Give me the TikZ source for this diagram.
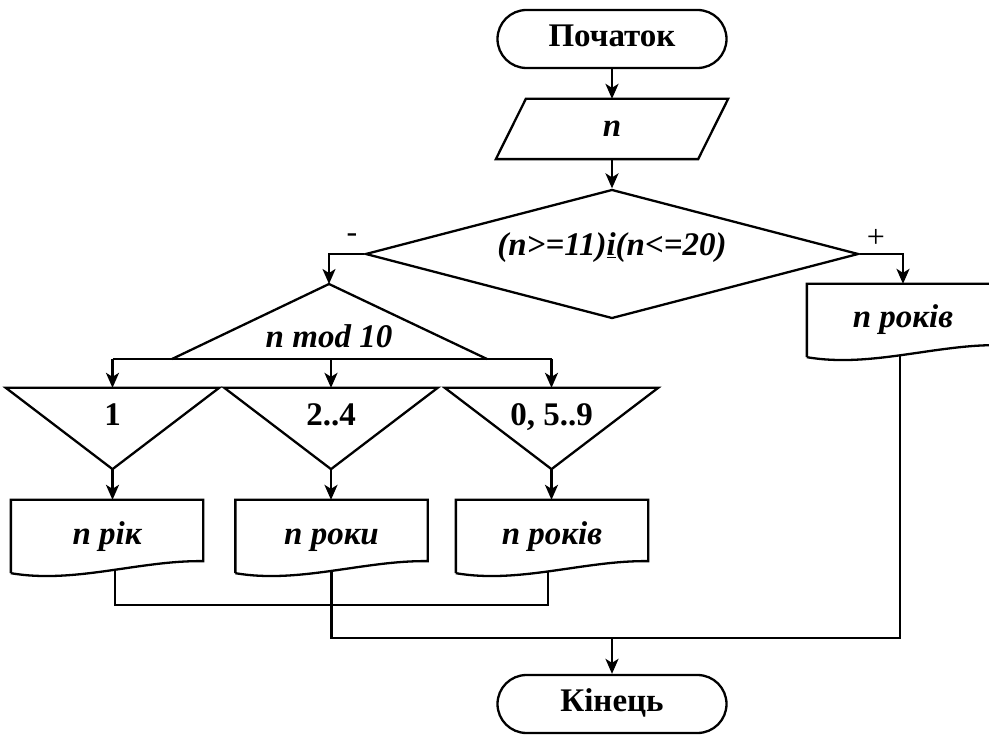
\documentclass[tikz,border=0pt]{standalone}
\usepackage{fontspec}
\setmainfont{Liberation Serif}
\usetikzlibrary{shapes.geometric,shapes.misc,arrows.meta,calc}

% document-style output block: box with a wavy lower edge
\newcommand\docoutline[1]{%
  \draw (#1.south west) -- (#1.north west) -- (#1.north east)
    -- ($(#1.south east)+(0,-12)$)
    .. controls ($(#1.south east)+(-63,-13)$) and ($(#1.south west)+(63,11)$) .. (#1.south west);}
% inverted triangle for a case branch
\newcommand\caseoutline[1]{%
  \draw (#1.north west) -- (#1.north east) -- (#1.south) -- cycle;}

\begin{document}
\begin{tikzpicture}[x=1pt,y=-1pt,line width=2.3pt,
  txt/.style={font=\fontsize{33}{36}\selectfont\bfseries,text height=22pt,text depth=7pt,inner sep=0pt},
  itxt/.style={font=\fontsize{33}{36}\selectfont\bfseries\itshape,text height=22pt,text depth=7pt,inner sep=0pt},
  sign/.style={font=\fontsize{32}{36}\selectfont},
  term/.style={rounded rectangle,draw,minimum width=229pt,minimum height=58pt,inner sep=0pt,txt},
  iobox/.style={rectangle,minimum width=200pt,minimum height=58pt,inner sep=0pt,itxt},
  decision/.style={diamond,draw,aspect=3.8,minimum width=493pt,minimum height=129pt,inner sep=0pt},
  docbox/.style={rectangle,minimum width=190pt,minimum height=71pt,inner sep=0pt,itxt},
  casebox/.style={rectangle,minimum width=211pt,minimum height=79pt,inner sep=0pt},
  arr/.style={-{Stealth[length=15pt,width=13pt,inset=4pt]}}]

\useasboundingbox (0,0) rectangle (989,735);
\clip (0,0) rectangle (989,735);

% start and input
\node[term] (start) at (612,39) {Початок};
\node[iobox] (inp) at (612,129) {n};
\draw ($(inp.north west)+(15,0)$) -- ($(inp.north east)+(15,0)$)
   -- ($(inp.south east)+(-15,0)$) -- ($(inp.south west)+(-15,0)$) -- cycle;
\draw[arr] (start.south) -- (inp.north);

% range test
\node[decision] (dec) at (612,254) {};
\node[itxt] (cond) at (612,248) {(n>=11)\underline{і}(n<=20)};
\draw[arr] (inp.south) -- (dec.north);
\node[sign] (minus) at (352,238) {-};
\node[sign] (plus) at (876,238) {+};

% selection by last digit
\coordinate (modtop) at (329,284);
\coordinate (modL) at (172,359);
\coordinate (modR) at (487,359);
\draw[arr] (dec.west) -- (dec.west -| modtop) -- (modtop);
\draw (modL) -- (modtop) -- (modR);
\node[itxt] (modtxt) at (329,340) {n mod 10};

\node[casebox] (t1) at (112.5,428.5) {};
\node[casebox] (t2) at (331,428.5) {};
\node[casebox] (t3) at (551.5,428.5) {};
\caseoutline{t1}
\caseoutline{t2}
\caseoutline{t3}
\node[txt] (c1) at ($(t1.north)+(0,30)$) {1};
\node[txt] (c2) at ($(t2.north)+(0,30)$) {2..4};
\node[txt] (c3) at ($(t3.north)+(0,30)$) {0, 5..9};

\draw (t1.north |- modL) -- (t3.north |- modL);
\draw[arr] (t1.north |- modL) -- (t1.north);
\draw[arr] (t2.north |- modL) -- (t2.north);
\draw[arr] (t3.north |- modL) -- (t3.north);

% outputs
\node[docbox] (d1) at (107,536.5) {n рік};
\node[docbox] (d2) at (331.5,536.5) {n роки};
\node[docbox] (d3) at (552,536.5) {n років};
\node[docbox] (d4) at (903,320.5) {n років};
\docoutline{d1}
\docoutline{d2}
\docoutline{d3}
\docoutline{d4}

\draw[arr] (t1.south) -- (t1.south |- d1.north);
\draw[arr] (t2.south) -- (t2.south |- d2.north);
\draw[arr] (t3.south) -- (t3.south |- d3.north);
\draw[arr] (dec.east) -- (dec.east -| d4.north) -- (d4.north);

% merging lines
\coordinate (d1b) at ($(d1.south)+(8,-3)$);
\coordinate (d2b) at ($(d2.south)+(0,-2)$);
\coordinate (d3b) at ($(d3.south)+(-4,-2)$);
\coordinate (d4b) at ($(d4.south)+(-3,-2)$);
\coordinate (jlow) at (0,605);
\coordinate (jmain) at (0,638);
\draw (d1b) -- (d1b |- jlow) -- (d3b |- jlow) -- (d3b);
\draw (d2b) -- (d2b |- jmain) -- (d4b |- jmain) -- (d4b);

% end
\node[term] (stop) at (612,704) {Кінець};
\draw[arr] (stop.north |- jmain) -- (stop.north);
\end{tikzpicture}
\end{document}
